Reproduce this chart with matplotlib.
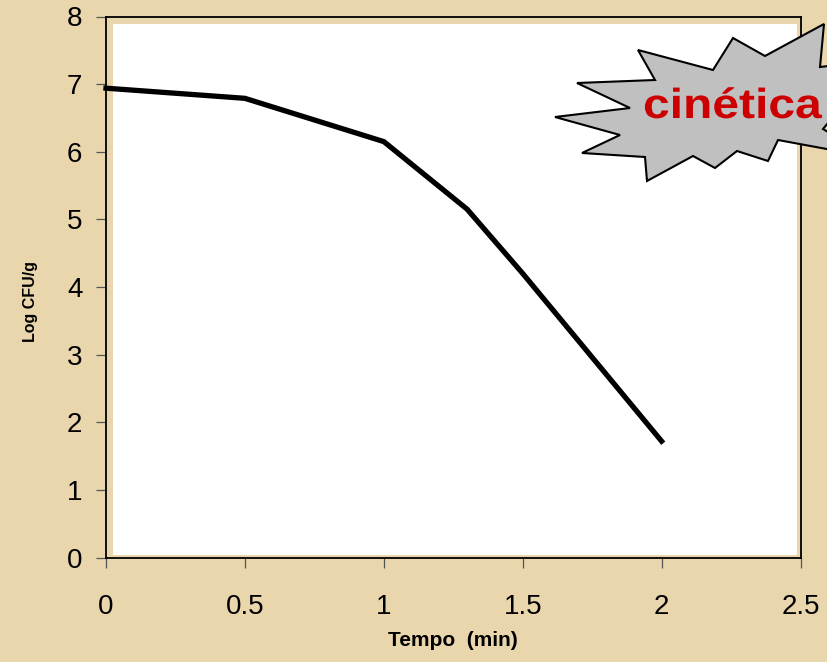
import matplotlib
matplotlib.use("Agg")
import matplotlib.pyplot as plt
import matplotlib.patches as mpatches
from matplotlib.textpath import TextPath
from matplotlib.font_manager import FontProperties
from matplotlib.transforms import Affine2D
import numpy as np

# data
tempo = [0.0, 0.5, 1.0, 1.3, 1.5, 2.0]
log_cfu = [6.94, 6.79, 6.15, 5.15, 4.2, 1.72]
x_ticks = [0, 0.5, 1, 1.5, 2, 2.5]
x_labels = ["0", "0.5", "1", "1.5", "2", "2.5"]
y_ticks = [0, 1, 2, 3, 4, 5, 6, 7, 8]

# starburst outline in pixels (x, y from top-left) of the 827x662 picture
burst_px = [(555, 117), (630, 108), (577, 83), (655, 80), (638, 50),
            (713, 70), (733, 38), (765, 56), (824, 24), (820, 67),
            (880, 60), (823, 129), (870, 157), (778, 140), (768, 161),
            (737, 151), (715, 168), (693, 156), (647, 181), (645, 157),
            (582, 153), (620, 135)]

W, H = 827, 662
bg = "#e9d6ad"
plt.rcParams["font.family"] = ["Liberation Sans", "DejaVu Sans"]

fig = plt.figure(figsize=(W / 100, H / 100), dpi=100, facecolor=bg)
ax = fig.add_axes([106 / W, 1 - 557.5 / H, (800.5 - 106) / W, (557.5 - 16.5) / H])
ax.set_facecolor(bg)

# white plot area, slightly inset from the frame
ax.add_patch(mpatches.Rectangle((0.010, 0.005), 0.9845, 0.981, transform=ax.transAxes,
                                facecolor="white", edgecolor="none", zorder=0))

ax.plot(tempo, log_cfu, color="black", lw=3.8, solid_joinstyle="miter", zorder=3,
        clip_on=False)

ax.set_xlim(0, 2.5)
ax.set_ylim(0, 8)
ax.set_xticks(x_ticks)
ax.set_xticklabels(x_labels)
ax.set_yticks(y_ticks)
for s in ax.spines.values():
    s.set_color("black")
    s.set_linewidth(1.3)
ax.tick_params(axis="x", direction="out", length=7, width=0.9, color="#555555",
               labelsize=20, pad=19)
ax.tick_params(axis="y", direction="out", length=7, width=0.9, color="#555555",
               labelsize=20, pad=10)

fig.text(453 / W, 1 - 640 / H, "Tempo  (min)", ha="center", va="center",
         fontsize=15, fontweight="bold")
fig.text(30 / W, 1 - 302 / H, "Log CFU/g", ha="center", va="center",
         rotation=90, fontsize=11.5, fontweight="bold")

# starburst callout
pts = [(x / W, 1 - y / H) for x, y in burst_px]
burst = mpatches.Polygon(pts, closed=True, transform=fig.transFigure,
                         facecolor="#c0c0c0", edgecolor="black", lw=1.5,
                         zorder=10, clip_on=False)
fig.add_artist(burst)

# the word is a bit wider than the font gives, so stretch it in x
word = TextPath((0, 0), "cinética", size=1,
                prop=FontProperties(family="Liberation Sans", weight="bold"))
tr = Affine2D().scale(48 / W, 42 / H).translate(643 / W, 1 - 118 / H) + fig.transFigure
fig.add_artist(mpatches.PathPatch(word, transform=tr, facecolor="#cc0000",
                                  edgecolor="none", zorder=11, clip_on=False))

fig.savefig("out.png", dpi=100, facecolor=bg)
